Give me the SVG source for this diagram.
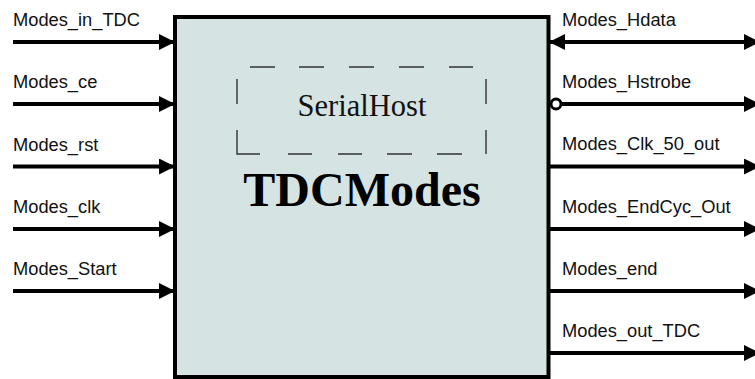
<svg xmlns="http://www.w3.org/2000/svg" width="755" height="379" viewBox="0 0 755 379">
<style>
.lbl{font-family:"Liberation Sans",Arial,sans-serif;font-size:18.3px;fill:#111}
.wire{stroke:#000;stroke-width:4;fill:none}
.dash{stroke:#333;stroke-width:1.4;fill:none}
</style>
<defs>
<marker id="ah" viewBox="0 0 16 16" refX="16" refY="8" markerWidth="16" markerHeight="16" markerUnits="userSpaceOnUse" orient="auto">
<path d="M0,0 L16,8 L0,16 Z" fill="#000"/>
</marker>
<marker id="ahs" viewBox="0 0 16 16" refX="16" refY="8" markerWidth="16" markerHeight="16" markerUnits="userSpaceOnUse" orient="auto-start-reverse">
<path d="M0,0 L16,8 L0,16 Z" fill="#000"/>
</marker>
</defs>
<rect width="755" height="379" fill="#fff"/>
<g id="TDCModes">
<rect x="175" y="17" width="373.5" height="360" fill="#d6e3e3" stroke="#000" stroke-width="4"/>
<text x="362" y="206" font-family="'Liberation Serif','Times New Roman',serif" font-size="48" font-weight="bold" text-anchor="middle" fill="#000">TDCModes</text>
</g>
<g id="SerialHost">
<path class="dash" d="M250,67H275M299,67H324M349,67H374M399,67H424M449,67H473M486,79V104M486,130V154M237,79V104M237,130V154H260M288,154H312M338,154H362M387,154H412M437,154H462"/>
<text x="362" y="115.5" font-family="'Liberation Serif','Times New Roman',serif" font-size="30.5" text-anchor="middle" fill="#111">SerialHost</text>
</g>
<g id="connectors">
<line class="wire" x1="13" y1="42" x2="175" y2="42" marker-end="url(#ah)"/>
<line class="wire" x1="13" y1="104" x2="175" y2="104" marker-end="url(#ah)"/>
<line class="wire" x1="13" y1="166.5" x2="175" y2="166.5" marker-end="url(#ah)"/>
<line class="wire" x1="13" y1="229" x2="175" y2="229" marker-end="url(#ah)"/>
<line class="wire" x1="13" y1="291" x2="175" y2="291" marker-end="url(#ah)"/>
<line class="wire" x1="549" y1="42" x2="760" y2="42" marker-start="url(#ahs)" marker-end="url(#ah)"/>
<line class="wire" x1="561" y1="104" x2="760" y2="104" marker-end="url(#ah)"/>
<circle cx="556" cy="104" r="5" fill="#fff" stroke="#000" stroke-width="3"/>
<line class="wire" x1="549" y1="166.5" x2="760" y2="166.5" marker-end="url(#ah)"/>
<line class="wire" x1="549" y1="229" x2="760" y2="229" marker-end="url(#ah)"/>
<line class="wire" x1="549" y1="291" x2="760" y2="291" marker-end="url(#ah)"/>
<line class="wire" x1="549" y1="353" x2="760" y2="353" marker-end="url(#ah)"/>
</g>
<g id="labels">
<text class="lbl" x="13" y="26">Modes_in_TDC</text>
<text class="lbl" x="13" y="88">Modes_ce</text>
<text class="lbl" x="13" y="150.5">Modes_rst</text>
<text class="lbl" x="13" y="213">Modes_clk</text>
<text class="lbl" x="13" y="275">Modes_Start</text>
<text class="lbl" x="562" y="25.5">Modes_Hdata</text>
<text class="lbl" x="562" y="87.5">Modes_Hstrobe</text>
<text class="lbl" x="562" y="150">Modes_Clk_50_out</text>
<text class="lbl" x="562" y="212.5">Modes_EndCyc_Out</text>
<text class="lbl" x="562" y="274.5">Modes_end</text>
<text class="lbl" x="562" y="336.5">Modes_out_TDC</text>
</g>
</svg>
